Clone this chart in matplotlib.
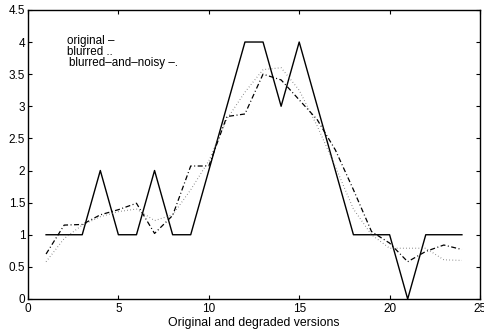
import matplotlib
matplotlib.use("Agg")
import matplotlib.pyplot as plt

# sample index and the three signal versions
x = list(range(1, 25))
original = [1, 1, 1, 2, 1, 1, 2, 1, 1, 2, 3, 4, 4, 3, 4, 3, 2, 1, 1, 1, 0, 1, 1, 1]
blurred = [0.58, 0.94, 1.15, 1.28, 1.36, 1.40, 1.22, 1.31, 1.70, 2.15, 2.80, 3.22,
           3.57, 3.60, 3.25, 2.69, 2.06, 1.40, 1.00, 0.79, 0.79, 0.79, 0.61, 0.60]
noisy = [0.70, 1.15, 1.16, 1.31, 1.39, 1.49, 1.02, 1.30, 2.07, 2.07, 2.84, 2.88,
         3.50, 3.41, 3.10, 2.79, 2.32, 1.70, 1.05, 0.87, 0.58, 0.74, 0.84, 0.77]

xticks = [0, 5, 10, 15, 20, 25]
yticks = [0, 0.5, 1, 1.5, 2, 2.5, 3, 3.5, 4, 4.5]
ytick_labels = ["0", "0.5", "1", "1.5", "2", "2.5", "3", "3.5", "4", "4.5"]
legend_lines = ["original \u2013", "blurred ..", "blurred\u2013and\u2013noisy \u2013."]

plt.rcParams["font.family"] = ["Liberation Sans", "DejaVu Sans"]

fig = plt.figure(figsize=(4.85, 3.3), dpi=100)
ax = fig.add_axes([0.0577, 0.094, 0.932, 0.876])

ax.plot(x, original, color="black", lw=1.0, linestyle="-")
ax.plot(x, blurred, color="#666666", lw=0.8, linestyle=(0, (0.6, 2.2)))
ax.plot(x, noisy, color="black", lw=0.9, linestyle=(0, (4, 2, 0.8, 2)))

ax.set_xlim(0, 25)
ax.set_ylim(0, 4.5)
ax.set_xticks(xticks)
ax.set_yticks(yticks)
ax.set_yticklabels(ytick_labels)
ax.tick_params(direction="in", length=3, width=0.8, labelsize=8.5,
               top=True, right=True, pad=2)
ax.tick_params(axis="x", pad=3)
for s in ax.spines.values():
    s.set_linewidth(1.0)

ax.set_xlabel("Original and degraded versions", fontsize=8.8, labelpad=1.5)

ax.text(0.087, 0.893, legend_lines[0], transform=ax.transAxes, fontsize=8.4, va="center")
ax.text(0.087, 0.855, legend_lines[1], transform=ax.transAxes, fontsize=8.4, va="center")
ax.text(0.091, 0.815, legend_lines[2], transform=ax.transAxes, fontsize=8.4, va="center")

fig.savefig("out.png", dpi=100)
